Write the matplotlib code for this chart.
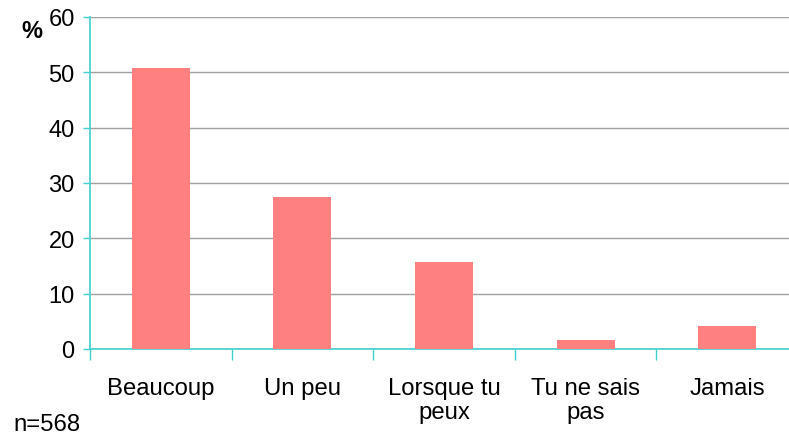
import matplotlib.pyplot as plt
import numpy as np

plt.rcParams['font.family'] = ['Liberation Sans', 'DejaVu Sans']

# survey answers and share of respondents (%)
categories = ["Beaucoup", "Un peu", "Lorsque tu\npeux", "Tu ne sais\npas", "Jamais"]
percent = [50.7, 27.4, 15.8, 1.6, 4.2]
y_ticks = [0, 10, 20, 30, 40, 50, 60]
sample_note = "n=568"

axis_color = '#40D0D0'
bar_color = '#FF8080'

fig = plt.figure(figsize=(7.89, 4.35), dpi=100)
# plot area runs slightly past the right edge of the canvas
ax = fig.add_axes([90 / 789, 1 - 350 / 435, 708 / 789, 332 / 435])

x = np.arange(len(categories))
ax.bar(x, percent, width=0.41, color=bar_color, zorder=3)

ax.set_xlim(-0.5, len(categories) - 0.5)
ax.set_ylim(0, 60)
ax.set_yticks(y_ticks)
ax.set_yticklabels([str(v) for v in y_ticks], fontsize=17)
ax.yaxis.grid(True, color='#A0A0A0', linewidth=1, zorder=0)

# category labels centred, tick marks between categories
ax.set_xticks(x)
ax.set_xticklabels(categories, fontsize=17.2, linespacing=1.15)
ax.set_xticks(np.arange(len(categories) + 1) - 0.5, minor=True)
ax.tick_params(axis='x', which='major', length=0, pad=20)
ax.tick_params(axis='x', which='minor', length=8, color=axis_color, width=1)
ax.tick_params(axis='y', length=5, color=axis_color, width=1, pad=6)

for side in ['top', 'right']:
    ax.spines[side].set_visible(False)
for side in ['left', 'bottom']:
    ax.spines[side].set_color(axis_color)
    ax.spines[side].set_linewidth(1.2)

fig.text(21 / 789, 1 - 31 / 435, "%", fontsize=17, fontweight='bold', va='center')
fig.text(13 / 789, 1 - 425 / 435, sample_note, fontsize=17.2, va='center')

fig.savefig('out.png', dpi=100)
